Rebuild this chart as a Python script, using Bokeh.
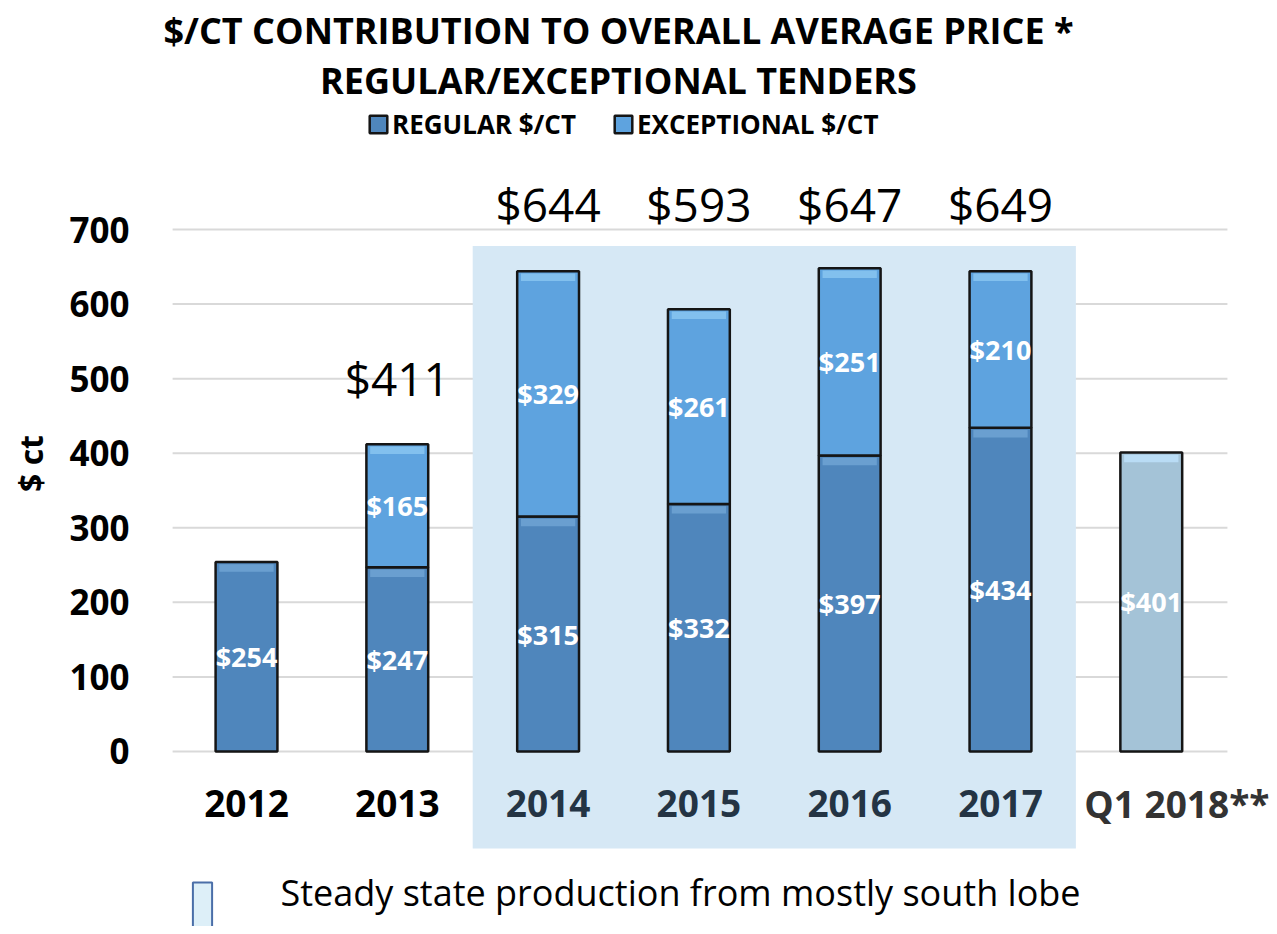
from bokeh.plotting import figure
from bokeh.models import (ColumnDataSource, FixedTicker, Label, Legend, LegendItem, Range1d)
from bokeh.core.properties import value
from bokeh.embed import file_html
from bokeh.resources import INLINE

# ---------------- data ----------------
categories = ["2012", "2013", "2014", "2015", "2016", "2017", "Q1 2018**"]
regular = [254, 247, 315, 332, 397, 434, 401]
exceptional = [0, 165, 329, 261, 251, 210, 0]
totals = [None, 411, 644, 593, 647, 649, None]
shaded_years = ["2014", "2015", "2016", "2017"]
y_ticks = [0, 100, 200, 300, 400, 500, 600, 700]

title_lines = ["$/CT CONTRIBUTION TO OVERALL AVERAGE PRICE *", "REGULAR/EXCEPTIONAL TENDERS"]
series_names = ["REGULAR $/CT", "EXCEPTIONAL $/CT"]
shade_label = "Steady state production from mostly south lobe"

# ---------------- style ----------------
FONT = "Open Sans"
C_REG = "#4F86BC"
C_EXC = "#5EA3DF"
C_Q1 = "#A4C3D7"
C_SHADE = "#D6E8F5"
C_GRID = "#D9D9D9"

W, H = 1269, 926
FL = 140  # frame left border
p = figure(width=W, height=H, output_backend="svg", toolbar_location=None,
           title=None, x_axis_location=None,
           x_range=Range1d(-0.703, 6.784), y_range=Range1d(-234.7, 1007.1),
           min_border_left=FL, min_border_right=0, min_border_top=0, min_border_bottom=0)
p.outline_line_color = None
p.xgrid.visible = False
p.ygrid.visible = False
p.background_fill_color = "white"
p.border_fill_color = "white"

n = len(categories)
xs = list(range(n))

# gridlines (drawn as segments through data space)
p.segment(x0=[-0.49] * len(y_ticks), x1=[n - 0.495] * len(y_ticks), y0=y_ticks, y1=y_ticks,
          line_color=C_GRID, line_width=2)

# shaded steady-state band
si = [categories.index(c) for c in shaded_years]
p.quad(left=[min(si) - 0.5], right=[max(si) + 0.5], top=[678], bottom=[-130],
       fill_color=C_SHADE, line_color=None)

# bars
reg_colors = [C_Q1 if c.startswith("Q1") else C_REG for c in categories]
bw = 0.41
src_reg = ColumnDataSource(dict(x=xs, bottom=[0] * n, top=regular, color=reg_colors))
r_reg = p.vbar(x="x", bottom="bottom", top="top", width=bw, source=src_reg,
               fill_color="color", line_color="#151515", line_width=2.5)

exc_idx = [i for i in xs if exceptional[i] > 0]
src_exc = ColumnDataSource(dict(x=exc_idx, bottom=[regular[i] for i in exc_idx],
                                top=[regular[i] + exceptional[i] for i in exc_idx]))
r_exc = p.vbar(x="x", bottom="bottom", top="top", width=bw, source=src_exc,
               fill_color=C_EXC, line_color="#151515", line_width=2.5)

# bevel highlights at the top of each segment
hl_reg = ["#B9DCF5" if c.startswith("Q1") else "#6A9FD0" for c in categories]
p.vbar(x=xs, bottom=[t - 13 for t in regular], top=[t - 3 for t in regular], width=bw - 0.05,
       fill_color=hl_reg, line_color=None)
p.vbar(x=exc_idx, bottom=[regular[i] + exceptional[i] - 13 for i in exc_idx],
       top=[regular[i] + exceptional[i] - 3 for i in exc_idx], width=bw - 0.05,
       fill_color="#82C0EE", line_color=None)

# value labels inside bars
p.text(x=xs, y=[r / 2 for r in regular], text=[f"${r}" for r in regular],
       text_color="white", text_font=value(FONT), text_font_style="bold",
       text_font_size="27px", text_align="center", text_baseline="middle")
p.text(x=exc_idx, y=[regular[i] + exceptional[i] / 2 for i in exc_idx],
       text=[f"${exceptional[i]}" for i in exc_idx],
       text_color="white", text_font=value(FONT), text_font_style="bold",
       text_font_size="27px", text_align="center", text_baseline="middle")

# total labels above bars
shade_max = max(totals[i] for i in si)
tot_idx = [i for i in xs if totals[i] is not None]
tot_y = [shade_max + 85 if i in si else totals[i] + 90 for i in tot_idx]
p.text(x=tot_idx, y=tot_y, text=[f"${totals[i]}" for i in tot_idx],
       text_color="black", text_font=value(FONT), text_font_size="46px",
       text_align="center", text_baseline="middle")

# category labels
cat_colors = ["#243444" if i in si else ("#333333" if categories[i].startswith("Q1") else "black")
              for i in xs]
cat_x = [i + (0.17 if categories[i].startswith("Q1") else 0) for i in xs]
p.text(x=cat_x, y=[-70] * n, text=categories, text_color=cat_colors,
       text_font=value(FONT), text_font_style="bold", text_font_size="37px",
       text_align="center", text_baseline="middle")

# y axis
p.yaxis.ticker = FixedTicker(ticks=y_ticks)
p.yaxis.axis_line_color = None
p.yaxis.major_tick_line_color = None
p.yaxis.minor_tick_line_color = None
p.yaxis.major_label_text_font = FONT
p.yaxis.major_label_text_font_style = "bold"
p.yaxis.major_label_text_font_size = "35px"
p.yaxis.major_label_text_color = "black"
p.yaxis.major_label_standoff = 5
p.yaxis.axis_label = "$ ct"
p.yaxis.axis_label_text_font = FONT
p.yaxis.axis_label_text_font_style = "bold"
p.yaxis.axis_label_text_font_size = "32px"
p.yaxis.axis_label_text_color = "black"
p.yaxis.axis_label_standoff = 14

# title (two centred lines)
for k, line in enumerate(title_lines):
    p.add_layout(Label(x=478, y=H - 30 - 50 * k, x_units="screen", y_units="screen",
                       text=line, text_font=FONT, text_font_style="bold",
                       text_font_size="36px", text_align="center", text_baseline="middle",
                       text_color="black"))

# series legend (top)
leg = Legend(items=[LegendItem(label=series_names[0], renderers=[r_reg], index=0),
                    LegendItem(label=series_names[1], renderers=[r_exc])],
             orientation="horizontal", location=(227, H - 142),
             label_text_font=FONT, label_text_font_style="bold", label_text_font_size="26px",
             label_text_color="black",
             glyph_width=22, glyph_height=22, label_standoff=3, spacing=36,
             padding=0, margin=0, border_line_color=None, background_fill_alpha=0)
p.add_layout(leg)

# shaded band legend (bottom): swatch via a legend item, text via a label
nan = float("nan")
dummy = p.quad(left=[nan], right=[nan], top=[nan], bottom=[nan], fill_color="#DDEFF8",
               line_color="#4A6EA8", line_width=2)
leg2 = Legend(items=[LegendItem(label="", renderers=[dummy])],
              location=(50, -28), label_text_font_size="1px",
              glyph_width=24, glyph_height=80, label_standoff=0,
              padding=0, margin=0, border_line_color=None, background_fill_alpha=0)
p.add_layout(leg2)
p.add_layout(Label(x=140, y=34, x_units="screen", y_units="screen", text=shade_label,
                   text_font=FONT, text_font_size="36px", text_color="black",
                   text_align="left", text_baseline="middle"))

open("out.html", "w").write(file_html(p, INLINE))
